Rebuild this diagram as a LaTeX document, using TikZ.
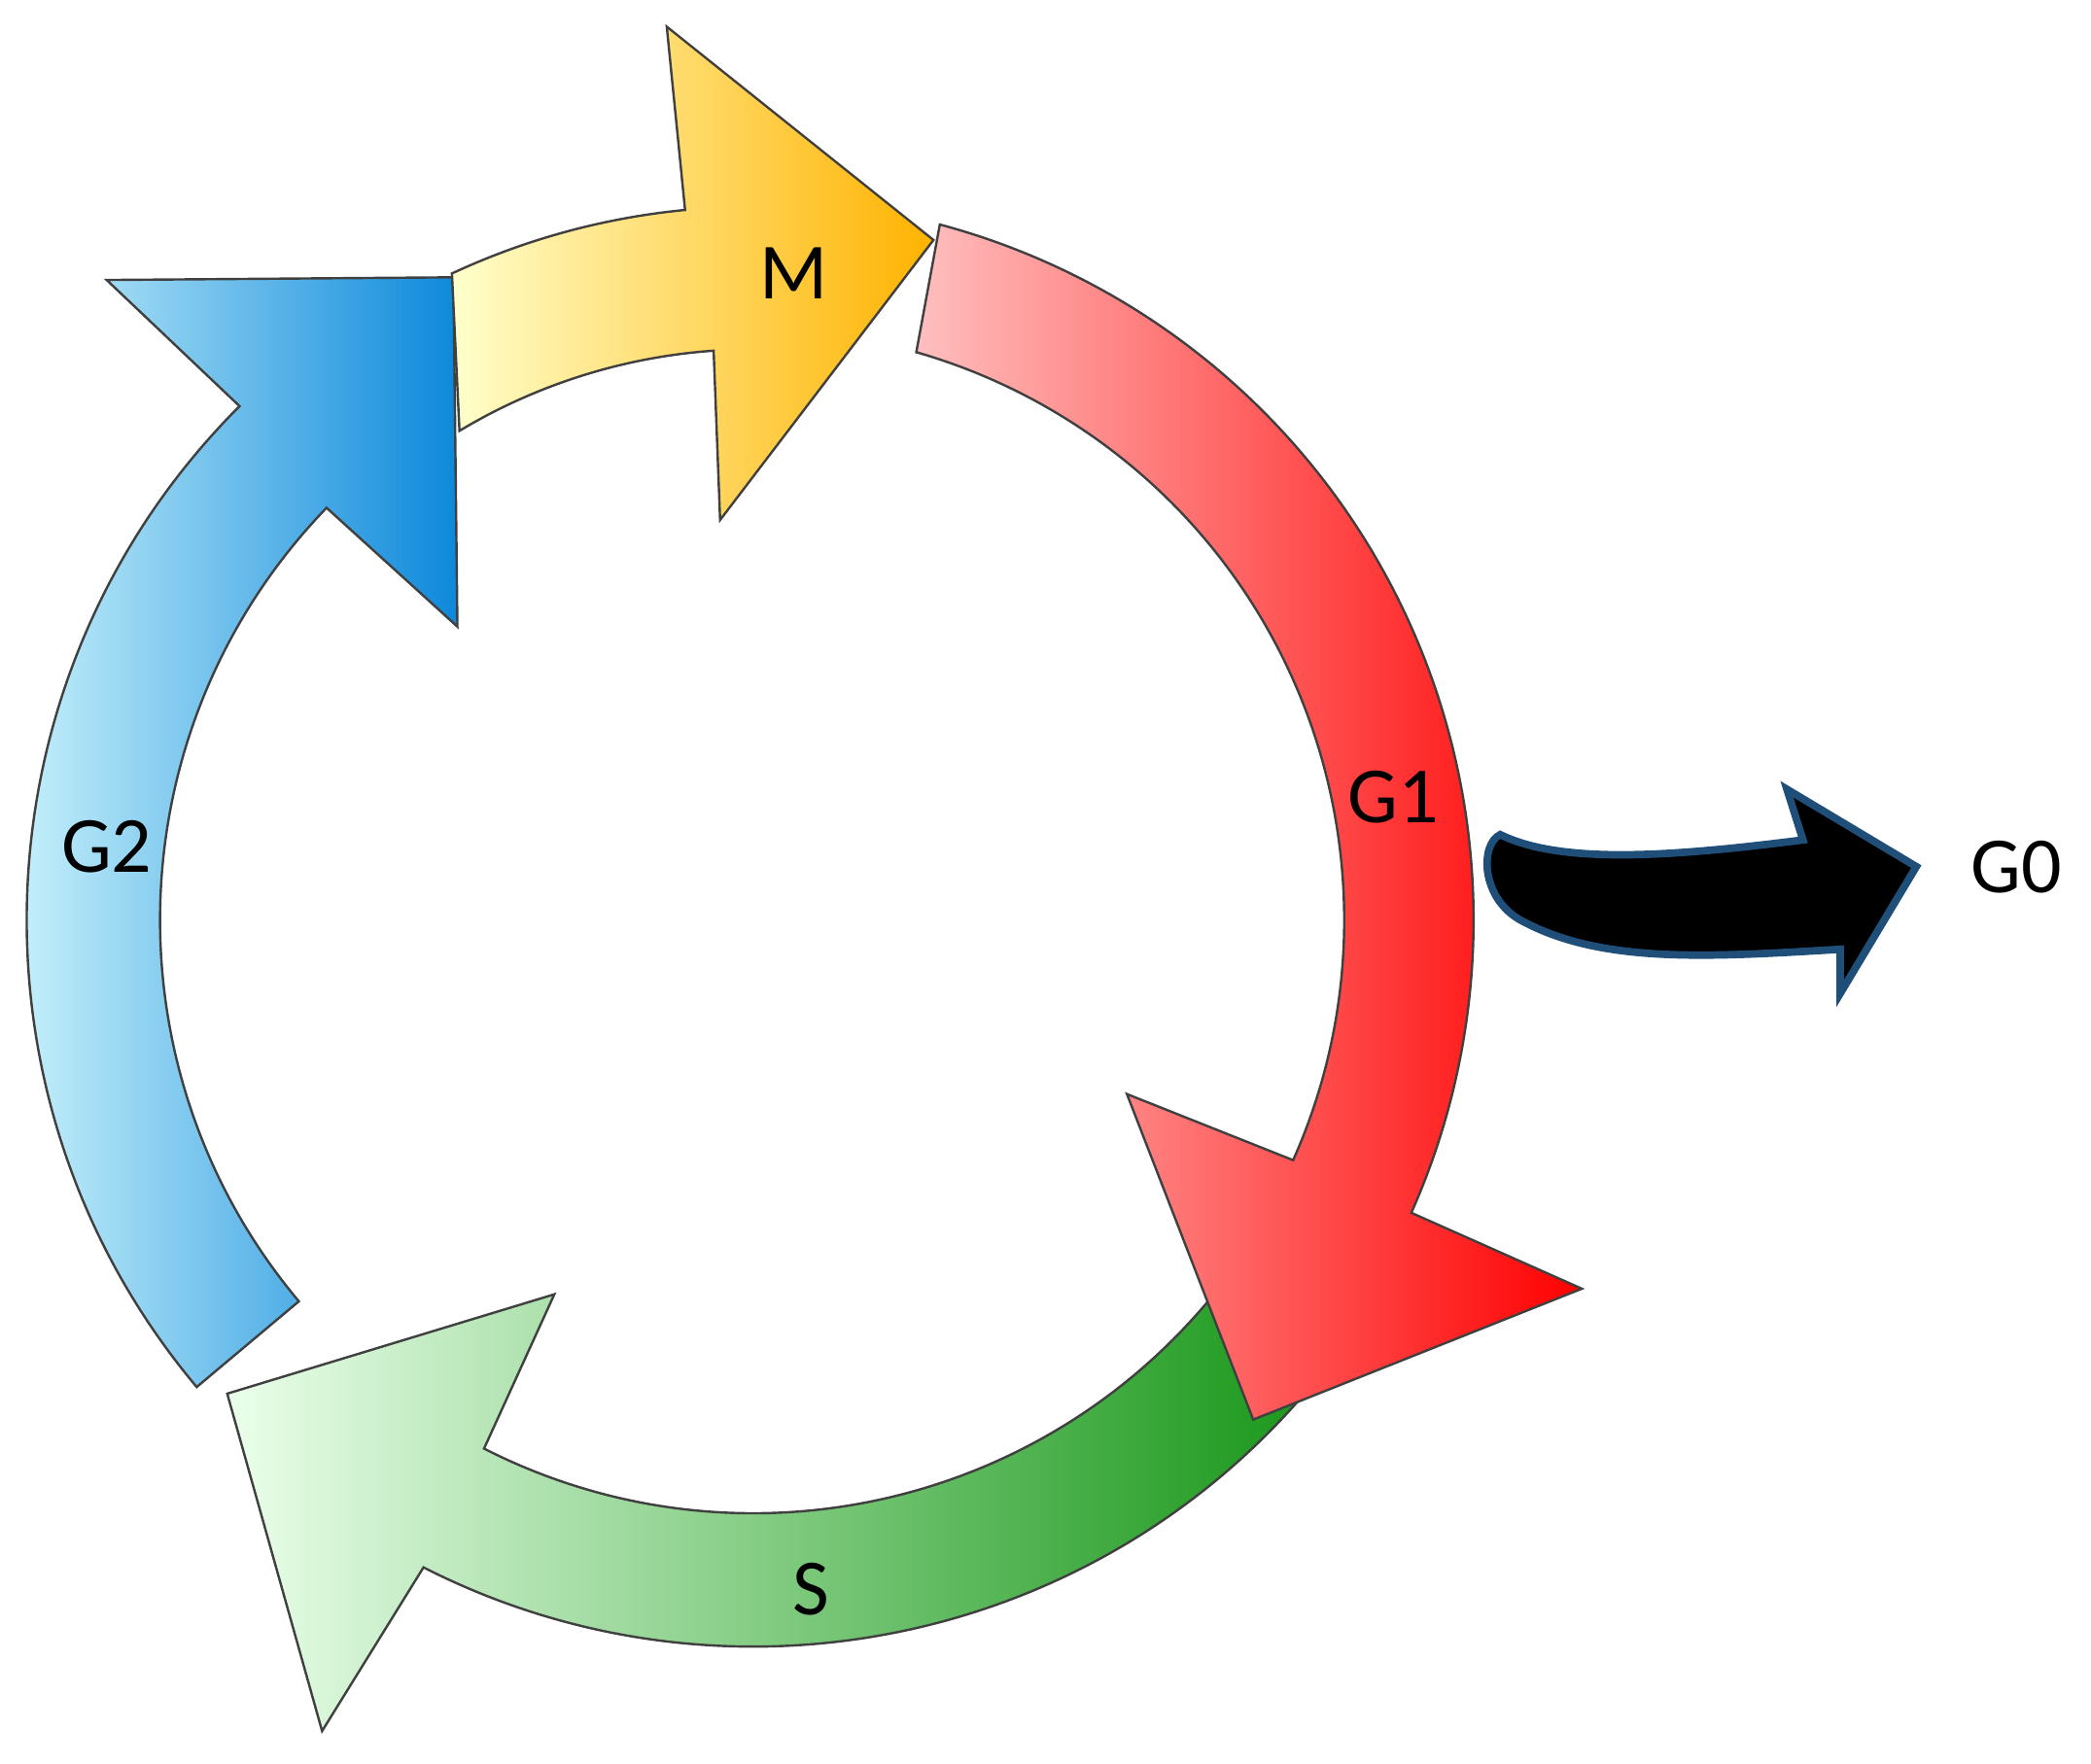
\documentclass[tikz,border=0pt]{standalone}
\usepackage{fontspec}
\setmainfont{Carlito}
\usetikzlibrary{calc}
\begin{document}
\begin{tikzpicture}[x=0.01cm,y=0.01cm,
  seg/.style={draw=black!75,line width=0.5pt,line join=miter},
  lab/.style={font=\fontsize{17}{17}\selectfont,inner sep=0pt}]
\useasboundingbox (0,0) rectangle (1568,1323);
\coordinate (c) at (565,633);
% blue G2
\path[seg,left color=cyan!12,right color=blue!40!cyan!85!black!95]
  ($(c)+(220:545)$) coordinate (b1) arc[start angle=220,end angle=135,radius=545]
  -- (80,1113) -- (340,1115) -- (343,853) -- ($(c)+(136:445)$)
  arc[start angle=136,end angle=220,radius=445] -- cycle;
% green S
\path[seg,left color=green!8!white,right color=green!55!black!90]
  ($(c)+(-40:545)$) arc[start angle=-40,end angle=-117,radius=545]
  -- ($(c)+(-118:689)$) -- ($(c)+(-138:531)$) -- ($(c)+(-118:318)$)
  -- ($(c)+(-117:445)$) arc[start angle=-117,end angle=-40,radius=445] -- cycle;
% red G1
\path[seg,left color=red!25!white,right color=red]
  ($(c)+(75:540)$) arc[start angle=75,end angle=-24,radius=540]
  -- ($(c)+(-24:680)$) -- ($(c)+(-45:530)$) -- ($(c)+(-25:309)$)
  -- ($(c)+(-24:443)$) arc[start angle=-24,end angle=74,radius=443] -- cycle;
% yellow M
\path[seg,left color=yellow!20!white,right color=orange!60!yellow]
  ($(c)+(115:535)$) arc[start angle=115,end angle=95.5,radius=535]
  -- (500,1303) -- (700,1143) -- (540,933) -- ($(c)+(94:428)$)
  arc[start angle=94,end angle=121,radius=428] -- cycle;
% black G0 arrow
\path[fill=black,draw={rgb,255:red,31;green,78;blue,121},line width=1.6pt]
  (1125,697) .. controls (1170,675) and (1250,680) .. (1352,693)
  -- (1340,731) -- (1437,673) -- (1380,578) -- (1380,611)
  .. controls (1280,605) and (1200,600) .. (1140,633)
  .. controls (1110,650) and (1110,690) .. (1125,697) -- cycle;
\node[lab] (m) at (595,1118) {M};
\node[lab] (g1) at (1045,725) {G1};
\node[lab] (g2) at (80,688) {G2};
\node[lab] (s) at (608,131) {S};
\node[lab] (g0) at (1512,673) {G0};
\end{tikzpicture}
\end{document}
